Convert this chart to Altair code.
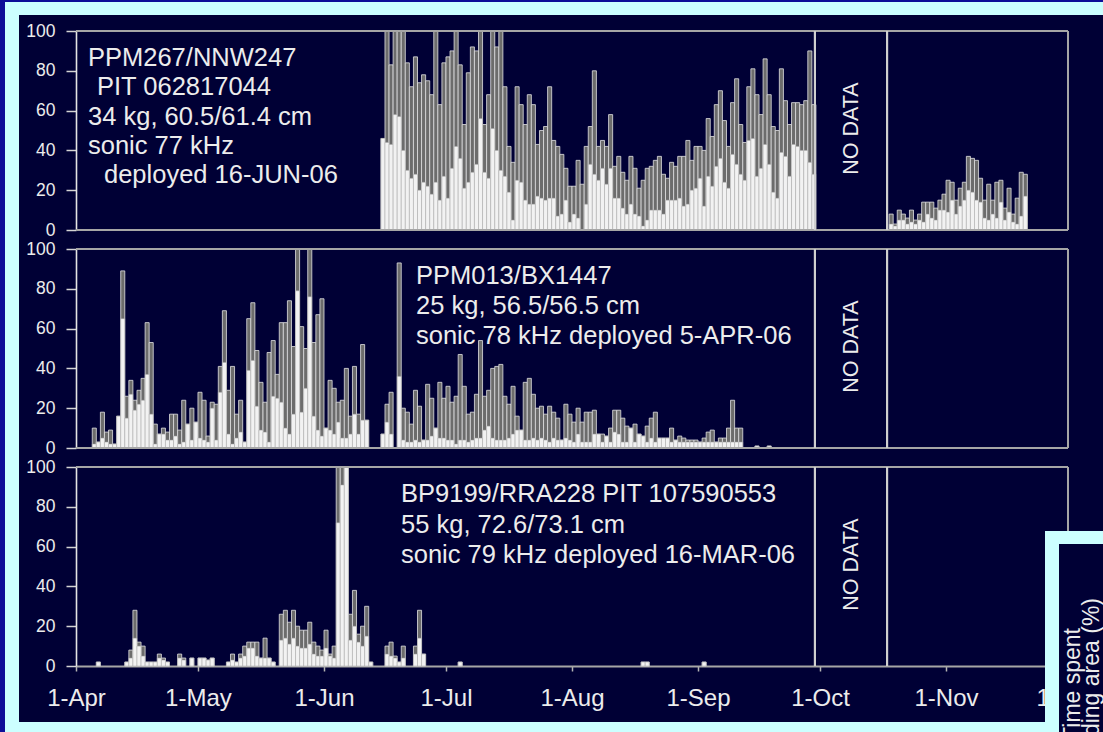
import altair as alt
import pandas as pd

BASE = pd.Timestamp("2006-04-01")

# ---------------- data (day index counted from 1-Apr-2006) ----------------
# Panel 1: PPM267/NNW247
p1a_first_day = 75
p1a_grey = [46, 100, 83, 100, 100, 100, 84, 72, 87, 74,
            78, 75, 68, 100, 63, 84, 87, 90, 100, 83,
            53, 79, 92, 90, 100, 53, 68, 100, 92, 100,
            72, 42, 34, 72, 63, 53, 68, 63, 43, 50,
            52, 72, 45, 42, 38, 31, 22, 22, 35, 23,
            42, 52, 80, 42, 45, 42, 58, 32, 37, 29,
            25, 37, 31, 21, 25, 31, 32, 35, 37, 28,
            26, 34, 32, 37, 37, 45, 35, 42, 42, 40,
            56, 47, 63, 70, 55, 42, 64, 76, 53, 44,
            72, 81, 68, 58, 86, 68, 52, 50, 81, 65,
            53, 64, 64, 63, 65, 90, 63]
p1a_white = [46, 44, 43, 58, 57, 40, 30, 26, 28, 20,
             24, 22, 18, 24, 15, 27, 16, 31, 42, 36,
             21, 24, 29, 33, 56, 29, 26, 51, 40, 30,
             27, 19, 5, 25, 24, 15, 13, 13, 17, 16,
             15, 16, 16, 7, 8, 15, 4, 8, 6, 0,
             13, 33, 28, 25, 31, 23, 31, 16, 16, 11,
             8, 13, 8, 7, 2, 5, 10, 10, 10, 8,
             15, 15, 15, 16, 12, 13, 20, 21, 26, 12,
             27, 22, 32, 36, 24, 21, 38, 33, 28, 25,
             45, 46, 27, 31, 43, 33, 19, 16, 39, 37,
             27, 43, 42, 40, 40, 34, 28]
p1b_first_day = 200
p1b_grey = [8, 3, 10, 8, 6, 10, 5, 8, 14, 14, 14, 11, 15, 18, 25, 24, 15,
            21, 24, 37, 36, 35, 26, 15, 23, 15, 24, 25, 11, 21, 8, 16, 29, 28]
p1b_white = [3, 2, 5, 5, 3, 4, 3, 5, 4, 8, 6, 5, 10, 10, 9, 15, 8,
             12, 15, 20, 19, 15, 14, 6, 5, 8, 6, 14, 5, 9, 4, 3, 7, 17]

# Panel 2: PPM013/BX1447
p2a_first_day = 4
p2a_grey = [10, 3, 18, 8, 9, 2, 16, 89, 26, 34, 24, 29, 35, 63, 53, 12, 7, 10, 8, 17,
            17, 9, 24, 12, 20, 13, 28, 24, 6, 23, 22, 41, 69, 29, 41, 17, 24, 3, 65, 73,
            49, 33, 23, 48, 54, 37, 63, 63, 74, 51, 100, 61, 50, 100, 53, 67, 75, 10, 34, 30,
            23, 24, 40, 16, 41, 17, 52, 14]
p2a_white = [2, 3, 5, 3, 2, 2, 16, 65, 15, 27, 19, 22, 24, 37, 17, 2, 7, 7, 4, 4,
             6, 2, 3, 12, 4, 13, 5, 4, 3, 20, 4, 28, 43, 7, 2, 5, 8, 3, 39, 44,
             21, 9, 8, 3, 26, 25, 23, 10, 7, 17, 79, 18, 30, 76, 16, 9, 6, 10, 9, 7,
             13, 5, 5, 7, 17, 7, 14, 14]
p2b_first_day = 75
p2b_grey = [7, 22, 28]
p2b_white = [7, 13, 7]
p2c_first_day = 79
p2c_grey = [93,
            20, 18, 12, 29, 21, 4, 32, 25, 10, 33,
            25, 31, 23, 26, 47, 31, 17, 18, 27, 54,
            26, 29, 40, 41, 42, 26, 22, 31, 16, 9,
            33, 35, 27, 20, 21, 17, 21, 18, 15, 4,
            22, 17, 13, 20, 13, 18, 18, 19, 7, 7,
            6, 10, 19, 19, 15, 11, 10, 12, 7, 6,
            11, 15, 18, 5, 5, 5, 10, 4, 6, 5,
            4, 4, 4, 3, 5, 8, 9, 3, 5, 5,
            10, 24, 10, 10]
p2c_white = [36,
             4, 3, 3, 4, 3, 4, 4, 6, 10, 5,
             5, 4, 4, 2, 4, 4, 3, 4, 5, 5,
             9, 11, 5, 4, 4, 4, 5, 7, 9, 9,
             4, 4, 5, 4, 5, 4, 3, 5, 4, 4,
             5, 4, 3, 7, 3, 3, 3, 7, 7, 3,
             6, 3, 8, 7, 3, 3, 10, 3, 7, 6,
             3, 5, 3, 5, 5, 5, 3, 4, 3, 3,
             3, 3, 3, 3, 3, 3, 3, 3, 3, 3,
             3, 3, 3, 3]
p2d_days = [167, 170]
p2d_grey = [1, 1]
p2d_white = [1, 1]

# Panel 3: BP9199/RRA228
p3_days = [5, 12, 13, 14, 15, 16, 17, 18, 19, 20, 21, 22, 25, 26, 28, 30, 31, 32, 33,
           37, 38, 39, 40, 41, 42, 43, 44, 45, 46, 47, 48, 50, 51, 52, 53, 54, 55, 56,
           57, 58, 59, 60, 61, 62, 63, 64, 65, 66, 67, 68, 69, 70, 71, 72, 76, 77, 78,
           79, 80, 83, 84, 85, 94, 139, 140, 154]
p3_grey = [2, 2, 8, 28, 12, 10, 2, 2, 2, 6, 4, 2, 6, 4, 4, 4, 4, 3, 4,
           2, 6, 2, 6, 10, 12, 12, 12, 4, 14, 4, 2, 26, 28, 22, 28, 20, 18, 18,
           22, 12, 10, 8, 18, 6, 10, 100, 100, 100, 26, 38, 16, 20, 30, 2, 10, 12, 5,
           2, 10, 10, 28, 6, 2, 2, 2, 2]
p3_white = [2, 2, 4, 14, 10, 5, 2, 2, 2, 4, 3, 2, 4, 3, 4, 4, 4, 3, 4,
            2, 3, 2, 4, 5, 9, 9, 5, 4, 4, 4, 2, 13, 14, 11, 14, 10, 9, 9,
            11, 6, 5, 5, 9, 5, 4, 72, 91, 100, 13, 20, 12, 10, 15, 2, 6, 5, 4,
            2, 4, 6, 14, 6, 2, 2, 2, 2]

month_ticks = [(2006, m) for m in range(4, 13)]

p1_text = ["PPM267/NNW247", "PIT 062817044", "34 kg, 60.5/61.4 cm",
           "sonic 77 kHz", "deployed 16-JUN-06"]
p2_text = ["PPM013/BX1447", "25 kg, 56.5/56.5 cm", "sonic 78 kHz deployed 5-APR-06"]
p3_text = ["BP9199/RRA228 PIT 107590553", "55 kg, 72.6/73.1 cm",
           "sonic 79 kHz deployed 16-MAR-06"]
inset_text = ["Time spent", "in feeding area (%)"]
no_data_label = "NO DATA"


def frame(days, grey, white):
    start = [BASE + pd.Timedelta(days=int(d)) for d in days]
    end = [s + pd.Timedelta(days=1) for s in start]
    return pd.DataFrame({"start": start, "end": end, "grey": grey, "white": white})


def run(first, grey, white):
    return frame(list(range(first, first + len(grey))), grey, white)


df1 = pd.concat([run(p1a_first_day, p1a_grey, p1a_white),
                 run(p1b_first_day, p1b_grey, p1b_white)], ignore_index=True)
df2 = pd.concat([run(p2a_first_day, p2a_grey, p2a_white),
                 run(p2b_first_day, p2b_grey, p2b_white),
                 run(p2c_first_day, p2c_grey, p2c_white),
                 frame(p2d_days, p2d_grey, p2d_white)], ignore_index=True)
df3 = frame(p3_days, p3_grey, p3_white)

# ---------------- styling ----------------
NAVY = "#000035"
CYAN = "#ccffff"
DARKBLUE = "#0d0d98"
TXT = "#ececec"
BORDER = "#a6a6a6"
FONT = "Liberation Sans"
W, H = 992, 199
GAP = 19

xscale = alt.Scale(domain=[alt.DateTime(year=2006, month=4, date=1),
                           alt.DateTime(year=2006, month=12, date=1)], nice=False)
yscale = alt.Scale(domain=[0, 100], nice=False)

yaxis = alt.Axis(values=[0, 20, 40, 60, 80, 100], title=None, grid=False,
                 labelFontSize=17.5, labelColor=TXT, labelFont=FONT, labelPadding=11,
                 labelFlush=False, tickSize=10, tickColor="#d4d4d4", tickWidth=1.5,
                 domainColor="#e4e4e4", domainWidth=1.6)
xaxis_bottom = alt.Axis(values=[alt.DateTime(year=y, month=m, date=1) for y, m in month_ticks],
                        format="%-d-%b", title=None, grid=False, labelFontSize=24,
                        labelColor=TXT, labelFont=FONT, labelPadding=15, labelFlush=False,
                        labelOverlap=False, tickSize=5, tickColor="#b4b4b4", tickWidth=1.5,
                        domainColor=BORDER, domainWidth=2)

dummy = pd.DataFrame({"k": [0]})


def prect(x1, x2, y1, y2, color):
    return alt.Chart(dummy).mark_rect(color=color).encode(
        x=alt.value(x1), x2=alt.value(x2), y=alt.value(y1), y2=alt.value(y2))


def ptext(s, x, y, size, align="left", **kw):
    return alt.Chart(dummy).mark_text(text=s, fontSize=size, font=FONT, color=TXT,
                                      baseline="alphabetic", align=align, **kw).encode(
        x=alt.value(x), y=alt.value(y))


def panel(df, xaxis, texts, deco_before=(), deco_after=()):
    X = lambda **kw: alt.X(scale=xscale, axis=xaxis, **kw)
    Y = lambda **kw: alt.Y(scale=yscale, axis=yaxis, **kw)
    grey = alt.Chart(df).mark_bar(fill="#6c6c6c", stroke="#e2e2e2", strokeWidth=0.8).encode(
        x=X(field="start", type="temporal"), x2="end:T",
        y=Y(field="grey", type="quantitative"), y2=alt.Y2(datum=0))
    white = alt.Chart(df).mark_bar(fill="#f2f2f2", stroke="#a4a4a4", strokeWidth=0.5).encode(
        x=X(field="start", type="temporal"), x2="end:T",
        y=Y(field="white", type="quantitative"), y2=alt.Y2(datum=0))
    top = alt.Chart(dummy).mark_rule(color=BORDER, strokeWidth=2).encode(
        y=Y(datum=100, type="quantitative"))
    right = alt.Chart(dummy).mark_rule(color=BORDER, strokeWidth=2).encode(
        x=X(datum=alt.DateTime(year=2006, month=12, date=1), type="temporal"))
    layers = list(deco_before) + [grey, white, top, right]
    if xaxis is None:
        layers.append(alt.Chart(dummy).mark_rule(color=BORDER, strokeWidth=2).encode(
            y=Y(datum=0, type="quantitative")))
    for dt in [alt.DateTime(year=2006, month=9, date=29, hours=18),
               alt.DateTime(year=2006, month=10, date=17, hours=12)]:
        layers.append(alt.Chart(dummy).mark_rule(color="#cfcfcf", strokeWidth=2.2).encode(
            x=X(datum=dt, type="temporal")))
    layers.append(alt.Chart(dummy).mark_text(text=no_data_label, angle=270, fontSize=21.5,
                                             font=FONT, color=TXT, align="center",
                                             baseline="middle").encode(
        x=X(datum=alt.DateTime(year=2006, month=10, date=8, hours=20), type="temporal"),
        y=Y(datum=51, type="quantitative")))
    layers += texts
    layers += list(deco_after)
    return alt.layer(*layers).properties(width=W, height=H)


FS = 25.5
t1 = [ptext(p1_text[0], 12, 35, FS), ptext(p1_text[1], 21, 64, FS),
      ptext(p1_text[2], 12, 94, FS), ptext(p1_text[3], 12, 123, FS),
      ptext(p1_text[4], 28, 152, FS)]
t2 = [ptext(p2_text[0], 340, 35, FS), ptext(p2_text[1], 340, 65, FS),
      ptext(p2_text[2], 340, 95, FS)]
t3 = [ptext(p3_text[0], 325, 35, FS), ptext(p3_text[1], 325, 66, FS),
      ptext(p3_text[2], 325, 96, FS)]

# page frame (drawn relative to the top panel's origin at 76,31)
frame_deco = [
    prect(-76, -71, -31, 701, DARKBLUE),
    prect(-76, 1027, -31, -29, DARKBLUE),
    prect(-71, 1027, -29, -16, CYAN),
    prect(-71, -57, -29, 701, CYAN),
    prect(-71, 1027, 691, 701, CYAN),
]
# inset box at the lower right (relative to the bottom panel's origin at 76,467)
inset_deco = [
    prect(969, 1030, 64, 270, CYAN),
    prect(983, 1030, 77, 270, NAVY),
    ptext(inset_text[0], 1004, 161, 23, align="right", angle=270),
    ptext(inset_text[1], 1023, 131, 23, align="right", angle=270),
]

p1 = panel(df1, None, t1, deco_before=frame_deco)
p2 = panel(df2, None, t2)
p3 = panel(df3, xaxis_bottom, t3, deco_after=inset_deco)

# With autosize "none" the concat reports a width of W and a height of 0,
# so the padding alone makes up the rest of the 1103 x 732 canvas.
chart = alt.vconcat(p1, p2, p3, spacing=GAP, bounds="flush").properties(
    autosize=alt.AutoSizeParams(type="none"),
    padding={"left": 76, "top": 31, "right": 1103 - 76 - W, "bottom": 732 - 31},
).configure(background=NAVY, font=FONT).configure_view(strokeWidth=0)

chart.save("out.html", embed_options={"renderer": "svg", "actions": False})
